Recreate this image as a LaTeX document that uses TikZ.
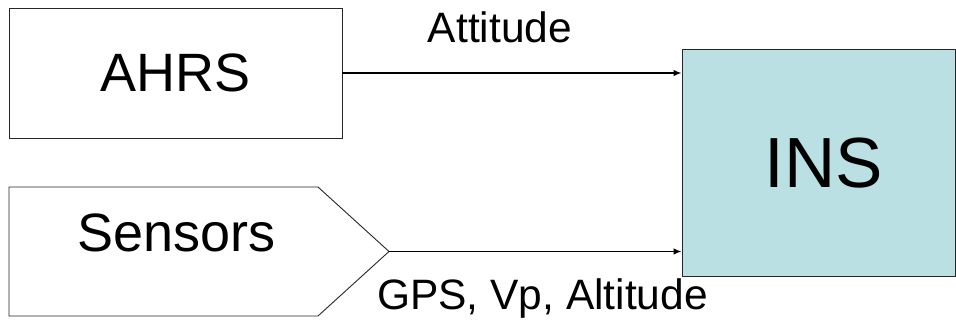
\documentclass[tikz,border=0pt]{standalone}
\usepackage{fontspec}
\setmainfont{Liberation Sans}
\usetikzlibrary{arrows.meta}
\definecolor{insfill}{HTML}{BBE0E3}
\tikzset{
  blockbox/.style={draw=black!85, line width=0.9pt, inner sep=0pt, fill=white},
  bigtext/.style={font=\fontsize{54}{60}\selectfont},
  labeltext/.style={font=\fontsize{42.5}{48}\selectfont, inner sep=0pt, anchor=base},
  flow/.style={line width=1.4pt, -{Latex[length=8pt,width=6.5pt]}},
}
\begin{document}
\begin{tikzpicture}[x=1pt,y=-1pt]
  \useasboundingbox (0,0) rectangle (956,320);

  % attitude source
  \node[blockbox, bigtext, minimum width=333pt, minimum height=130pt] (ahrs) at (175.5,73) {AHRS};

  % inertial navigation block
  \node[blockbox, fill=insfill, minimum width=273pt, minimum height=227pt] (ins) at (818.5,162.5) {};
  \node[font=\fontsize{71}{78}\selectfont, inner sep=0pt] (inslabel) at (824,163.5) {INS};

  % sensor block, pointed on its right side
  \draw[draw=black!85, line width=0.9pt] (9,187) -- (318,187) -- (389,251.5)
        -- (318,316) -- (9,316) -- cycle;
  \coordinate (stip) at (389,251.5);
  \node[bigtext, inner sep=0pt] (sensors) at (176.5,233) {Sensors};

  % data flows into INS
  \draw[flow] (ahrs.east) -- (ins.west |- ahrs.east);
  \draw[flow] (stip) -- (ins.west |- stip);

  \node[labeltext] (att) at (500,43) {Attitude};
  \node[labeltext] (gps) at (542.5,310) {GPS, Vp, Altitude};
\end{tikzpicture}
\end{document}
